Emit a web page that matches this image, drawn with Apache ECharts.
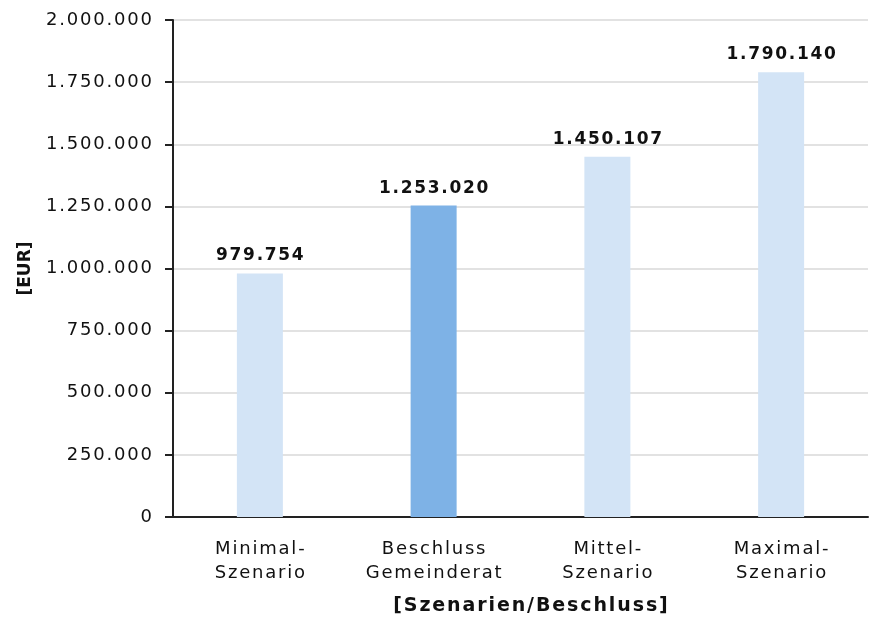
<!DOCTYPE html>
<html lang="de">
  <head>
    <meta charset="UTF-8" />
    <title>Szenarien</title>
    <script src="https://cdn.jsdelivr.net/npm/echarts@6/dist/echarts.min.js"></script>
    <style>
      html, body { margin: 0; padding: 0; background: #fff; }
      #main { width: 869px; height: 617px; }
    </style>
  </head>
  <body>
    <div id="main"></div>
    <script>
      // Daten
      const categories = ["Minimal-\nSzenario", "Beschluss\nGemeinderat", "Mittel-\nSzenario", "Maximal-\nSzenario"];
      const values = [979754, 1253020, 1450107, 1790140];
      const highlight = [false, true, false, false];

      const FONT = "DejaVu Sans";
      const lightBlue = "#d3e4f6";
      const darkBlue = "#7eb2e6";

      // Excel-Schrift wirkt gesperrt -> Haarspatien zwischen den Zeichen
      const spaced = (s) => s.split("\n").map((l) => l.split("").join("\u200A")).join("\n");
      // deutsches Zahlenformat: 1.253.020
      const fmt = (v) => String(Math.round(v)).replace(/\B(?=(\d{3})+(?!\d))/g, ".");

      const chart = echarts.init(document.getElementById("main"));

      chart.setOption({
        animation: false,
        grid: { left: 173, right: 1, top: 20, bottom: 100, outerBoundsMode: "none" },
        xAxis: {
          type: "category",
          data: categories,
          name: spaced("[Szenarien/Beschluss]"),
          nameLocation: "middle",
          nameGap: 80,
          nameTextStyle: { fontFamily: FONT, fontSize: 19, fontWeight: "bold", color: "#111", padding: [0, 0, 0, 20] },
          axisLine: { lineStyle: { color: "#222", width: 2 } },
          axisTick: { show: false },
          axisLabel: {
            interval: 0,
            fontFamily: FONT, fontSize: 18, color: "#111", margin: 20, lineHeight: 24,
            formatter: (v) => spaced(v),
          },
        },
        yAxis: {
          type: "value",
          min: 0,
          max: 2000000,
          interval: 250000,
          name: "[EUR]",
          nameLocation: "middle",
          nameGap: 139,
          nameTextStyle: { fontFamily: FONT, fontSize: 17, fontWeight: "bold", color: "#111" },
          axisLine: { show: true, lineStyle: { color: "#222", width: 2 } },
          axisTick: { show: true, inside: false, length: 8, lineStyle: { color: "#222", width: 2 } },
          axisLabel: { fontFamily: FONT, fontSize: 18, color: "#111", margin: 21, formatter: (v) => spaced(fmt(v)) },
          splitLine: { lineStyle: { color: "#d9d9d9", width: 1.5 } },
        },
        series: [
          {
            type: "bar",
            barWidth: 46,
            data: values.map((v, i) => ({
              value: v,
              itemStyle: { color: highlight[i] ? darkBlue : lightBlue },
            })),
            label: {
              show: true,
              position: "top",
              distance: 9,
              fontFamily: FONT,
              fontSize: 17,
              fontWeight: "bold",
              color: "#111",
              formatter: (p) => spaced(fmt(p.value)),
            },
          },
        ],
      });
    </script>
  </body>
</html>
